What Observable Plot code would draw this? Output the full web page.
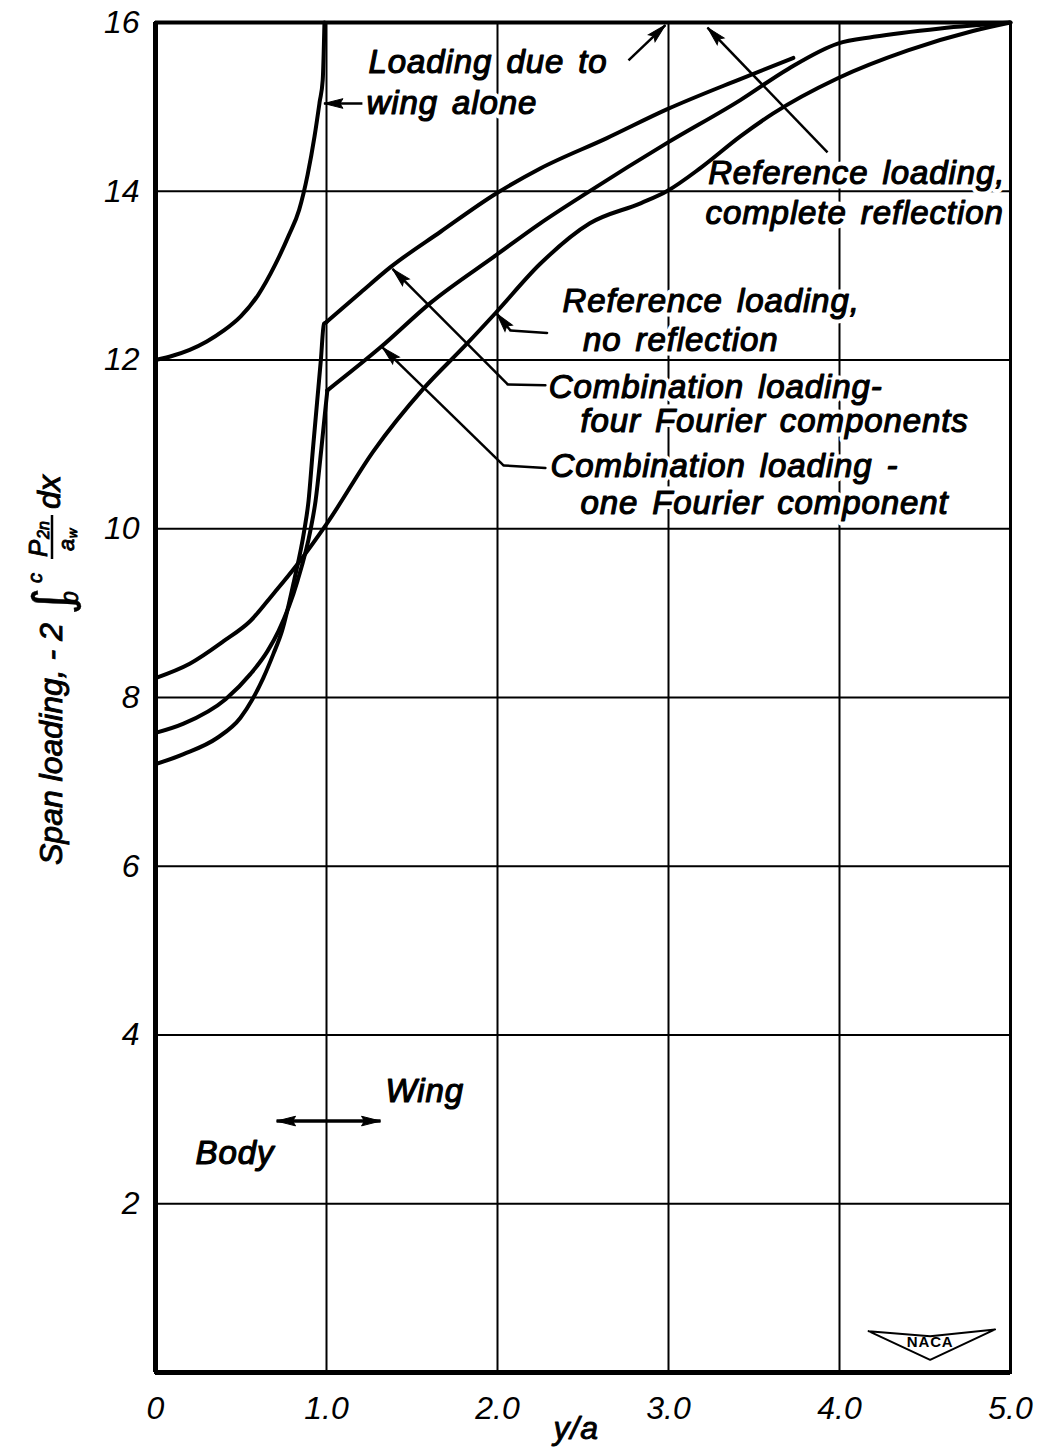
<!DOCTYPE html>
<html>
<head>
<meta charset="utf-8">
<script src="https://cdn.jsdelivr.net/npm/d3@7"></script>
<script src="https://cdn.jsdelivr.net/npm/@observablehq/plot@0.6"></script>
<style>
  body { margin: 0; background: #fff; }
  #chart svg { display: block; }
  #chart g[aria-label="text"] text { letter-spacing: 0.9px; word-spacing: 4px; }
</style>
</head>
<body>
<div id="chart"></div>
<script>
// ---- Curves (x = y/a, y = span loading) ----
const wingAloneX = [0, 0.10, 0.20, 0.30, 0.40, 0.50, 0.60, 0.70, 0.78, 0.84, 0.89, 0.93, 0.96, 0.978, 0.988];
const wingAloneY = [12.0, 12.05, 12.12, 12.22, 12.35, 12.52, 12.77, 13.13, 13.48, 13.78, 14.2, 14.65, 15.06, 15.32, 16.0];

// Combination loading, four Fourier components (body part, then wing part)
const fourInnerX = [0, 0.164, 0.36, 0.497, 0.567, 0.63, 0.69, 0.74, 0.81, 0.87, 0.895, 0.92, 0.945, 0.967, 0.985, 1.0];
const fourInnerY = [7.21, 7.33, 7.52, 7.76, 7.98, 8.23, 8.52, 8.79, 9.38, 9.98, 10.33, 10.93, 11.5, 12.0, 12.43, 12.45];
const fourOuterX = [1.0, 1.2, 1.374, 1.667, 1.99, 2.25, 2.64, 2.99, 3.42, 3.73];
const fourOuterY = [12.45, 12.80, 13.10, 13.52, 13.97, 14.27, 14.63, 14.97, 15.33, 15.58];

// Combination loading, one Fourier component (body part, then wing part)
const oneInnerX = [0, 0.164, 0.41, 0.556, 0.655, 0.72, 0.83, 0.906, 0.936, 0.969, 0.99, 1.005];
const oneInnerY = [7.58, 7.69, 7.98, 8.28, 8.55, 8.79, 9.38, 9.98, 10.33, 10.93, 11.35, 11.64];
const oneOuterX = [1.005, 1.316, 1.61, 1.99, 2.25, 2.53, 2.99, 3.42, 3.7, 3.99, 4.2, 4.59, 5.0];
const oneOuterY = [11.64, 12.15, 12.68, 13.24, 13.62, 13.99, 14.57, 15.08, 15.45, 15.75, 15.83, 15.93, 16.0];

// Reference loading, no reflection
const refNoReflX = [0, 0.2, 0.40, 0.556, 0.69, 0.83, 1.005, 1.275, 1.567, 1.82, 1.99, 2.25, 2.54, 2.84, 2.99, 3.19, 3.42, 3.61, 3.99, 4.40, 4.78, 5.0];
const refNoReflY = [8.23, 8.40, 8.67, 8.91, 9.23, 9.58, 10.07, 10.92, 11.66, 12.19, 12.56, 13.14, 13.62, 13.86, 14.0, 14.28, 14.65, 14.92, 15.34, 15.67, 15.9, 16.0];

// ---- Axes ----
const xTicks = [0, 1, 2, 3, 4, 5];
const xTickLabels = ["0", "1.0", "2.0", "3.0", "4.0", "5.0"];
const yTicks = [2, 4, 6, 8, 10, 12, 14, 16];
const yTickLabels = ["2", "4", "6", "8", "10", "12", "14", "16"];
const xGrid = [1, 2, 3, 4];
const yGrid = [2, 4, 6, 8, 10, 12, 14];

// ---- Annotations ----
const labelText = ["Loading due to", "wing alone", "Reference loading,", "complete reflection",
  "Reference loading,", "no reflection", "Combination loading-", "four Fourier components",
  "Combination loading -", "one Fourier component", "Wing", "Body"];
const labelX = [1.246, 1.234, 4.97, 4.96, 2.38, 2.50, 2.30, 2.485, 2.31, 2.485, 1.345, 0.234];
const labelY = [15.53, 15.04, 14.21, 13.74, 12.70, 12.23, 11.68, 11.27, 10.74, 10.30, 3.33, 2.60];
const labelAnchor = ["start", "start", "end", "end", "start", "start", "start", "start", "start", "start", "start", "start"];

const leaderId = ["noRefl", "noRefl", "four", "four", "one", "one"];
const leaderX = [2.29, 2.076, 2.28, 2.06, 2.28, 2.035];
const leaderY = [12.32, 12.35, 11.70, 11.71, 10.72, 10.75];

const arrowX1 = [1.21, 2.766, 3.93, 2.076, 2.06, 2.035, 1.0, 1.0];
const arrowY1 = [15.04, 15.55, 14.46, 12.35, 11.71, 10.75, 2.98, 2.98];
const arrowX2 = [0.985, 2.982, 3.228, 1.995, 1.386, 1.327, 0.708, 1.316];
const arrowY2 = [15.04, 15.97, 15.94, 12.55, 13.08, 12.15, 2.98, 2.98];
const arrowWidth = [2.5, 2.5, 2.5, 2.5, 2.5, 2.5, 3.5, 3.5];

const nacaX = [4.17, 4.53, 4.91, 4.53, 4.17];
const nacaY = [0.49, 0.43, 0.51, 0.15, 0.49];

// ---- Build tables ----
const series = [
  {name: "wingAlone", x: wingAloneX, y: wingAloneY},
  {name: "fourInner", x: fourInnerX, y: fourInnerY},
  {name: "fourOuter", x: fourOuterX, y: fourOuterY},
  {name: "oneInner", x: oneInnerX, y: oneInnerY},
  {name: "oneOuter", x: oneOuterX, y: oneOuterY},
  {name: "refNoRefl", x: refNoReflX, y: refNoReflY}
];
const lineData = series.flatMap(s => s.x.map((x, i) => ({series: s.name, x, y: s.y[i]})));
const labels = labelText.map((t, i) => ({t, x: labelX[i], y: labelY[i], a: labelAnchor[i]}));
const leaders = leaderId.map((id, i) => ({id, x: leaderX[i], y: leaderY[i]}));
const arrows = arrowX1.map((x1, i) => ({x1, y1: arrowY1[i], x2: arrowX2[i], y2: arrowY2[i], w: arrowWidth[i]}));
const naca = nacaX.map((x, i) => ({x, y: nacaY[i]}));

const FONT = "'Liberation Sans', Arial, sans-serif";
const W = 1041, H = 1452, ML = 155, MR = 31, MT = 22, MB = 80;
const X_DOMAIN = [0, 5], Y_DOMAIN = [0, 16];
// pixel-per-unit ratios of the linear scales (used only for arrowhead orientation)
const kx = (W - ML - MR) / (X_DOMAIN[1] - X_DOMAIN[0]);
const ky = (H - MT - MB) / (Y_DOMAIN[1] - Y_DOMAIN[0]);
const headAngle = d => Math.atan2((d.x2 - d.x1) * kx, (d.y2 - d.y1) * ky) * 180 / Math.PI;

// filled, narrow arrowhead: tip at origin, pointing up
const arrowHead = {
  draw(context) {
    context.moveTo(0, 0);
    context.lineTo(4.8, 19);
    context.lineTo(0, 16);
    context.lineTo(-4.8, 19);
    context.closePath();
  }
};

function textLayer(data, anchor, halo) {
  return Plot.text(data.filter(d => d.a === anchor), {
    x: "x", y: "y", text: "t", textAnchor: anchor,
    fontSize: 33, fontStyle: "italic", fontFamily: FONT,
    fill: halo ? "white" : "black",
    stroke: halo ? "white" : "black",
    strokeWidth: halo ? 9 : 1.2,
    paintOrder: "stroke"
  });
}

const chart = Plot.plot({
  width: W,
  height: H,
  marginLeft: ML,
  marginRight: MR,
  marginTop: MT,
  marginBottom: MB,
  style: {fontFamily: FONT, fontStyle: "italic", background: "white", color: "black"},
  x: {domain: X_DOMAIN},
  y: {domain: Y_DOMAIN},
  marks: [
    Plot.ruleX(xGrid, {strokeWidth: 2}),
    Plot.ruleY(yGrid, {strokeWidth: 2}),
    textLayer(labels, "start", true),
    textLayer(labels, "end", true),
    Plot.frame({strokeWidth: 3}),
    Plot.ruleX([0], {strokeWidth: 5}),
    Plot.ruleY([0], {strokeWidth: 5}),
    Plot.ruleY([16], {strokeWidth: 4}),
    Plot.line(lineData, {x: "x", y: "y", z: "series", stroke: "black", strokeWidth: 4, curve: "monotone-x"}),
    Plot.line(leaders, {x: "x", y: "y", z: "id", stroke: "black", strokeWidth: 2.5}),
    Plot.link(arrows, {x1: "x1", y1: "y1", x2: "x2", y2: "y2", strokeWidth: "w", stroke: "black"}),
    Plot.dot(arrows, {x: "x2", y: "y2", symbol: arrowHead, rotate: headAngle, fill: "black", stroke: "black", strokeWidth: 1}),
    Plot.line(naca, {x: "x", y: "y", stroke: "black", strokeWidth: 2}),
    Plot.text(["NACA"], {x: 4.53, y: 0.36, fontSize: 15, fontStyle: "normal", fontWeight: "bold", fontFamily: FONT, fill: "black"}),
    textLayer(labels, "start", false),
    textLayer(labels, "end", false),
    Plot.axisX(xTicks, {tickSize: 0, tickPadding: 24, fontSize: 32, fontStyle: "italic", fontFamily: FONT,
      tickFormat: d => xTickLabels[xTicks.indexOf(d)], label: null, fill: "black", stroke: "black", strokeWidth: 0.9}),
    Plot.axisY(yTicks, {tickSize: 0, tickPadding: 16, fontSize: 32, fontStyle: "italic", fontFamily: FONT,
      tickFormat: d => yTickLabels[yTicks.indexOf(d)], label: null, fill: "black", stroke: "black", strokeWidth: 0.9}),
    Plot.text(["y/a"], {frameAnchor: "bottom", x: 2.46, dy: 66, fontSize: 32, fontStyle: "italic", fontFamily: FONT, fill: "black", stroke: "black", strokeWidth: 0.9})
  ]
});

// ---- Y-axis label (rotated, with integral and fraction) ----
const svg = d3.select(chart);
const g = svg.append("g")
  .attr("transform", "translate(62,865) rotate(-90)")
  .attr("text-anchor", "start")
  .attr("font-family", FONT)
  .attr("font-style", "italic")
  .attr("fill", "black")
  .attr("stroke", "black")
  .attr("stroke-width", 0.9);
g.append("text").attr("x", 0).attr("y", 0).attr("font-size", 32).text("Span loading, - 2");
g.append("text").attr("x", 250).attr("y", 8).attr("font-size", 52).attr("font-family", "'DejaVu Sans'").attr("font-style", "normal").attr("stroke-width", 0.4).text("\u222B");
g.append("text").attr("x", 282).attr("y", -20).attr("font-size", 20).text("c");
g.append("text").attr("x", 262).attr("y", 16).attr("font-size", 20).text("0");
g.append("line").attr("x1", 306).attr("x2", 350).attr("y1", -10).attr("y2", -10).attr("stroke-width", 2.5);
g.append("text").attr("x", 308).attr("y", -15).attr("font-size", 26).text("P");
g.append("text").attr("x", 326).attr("y", -13).attr("font-size", 16).text("2n");
g.append("text").attr("x", 314).attr("y", 12).attr("font-size", 22).text("a");
g.append("text").attr("x", 327).attr("y", 15).attr("font-size", 13).text("w");
g.append("text").attr("x", 356).attr("y", -2).attr("font-size", 32).text("dx");

document.getElementById("chart").appendChild(chart);
</script>
</body>
</html>
